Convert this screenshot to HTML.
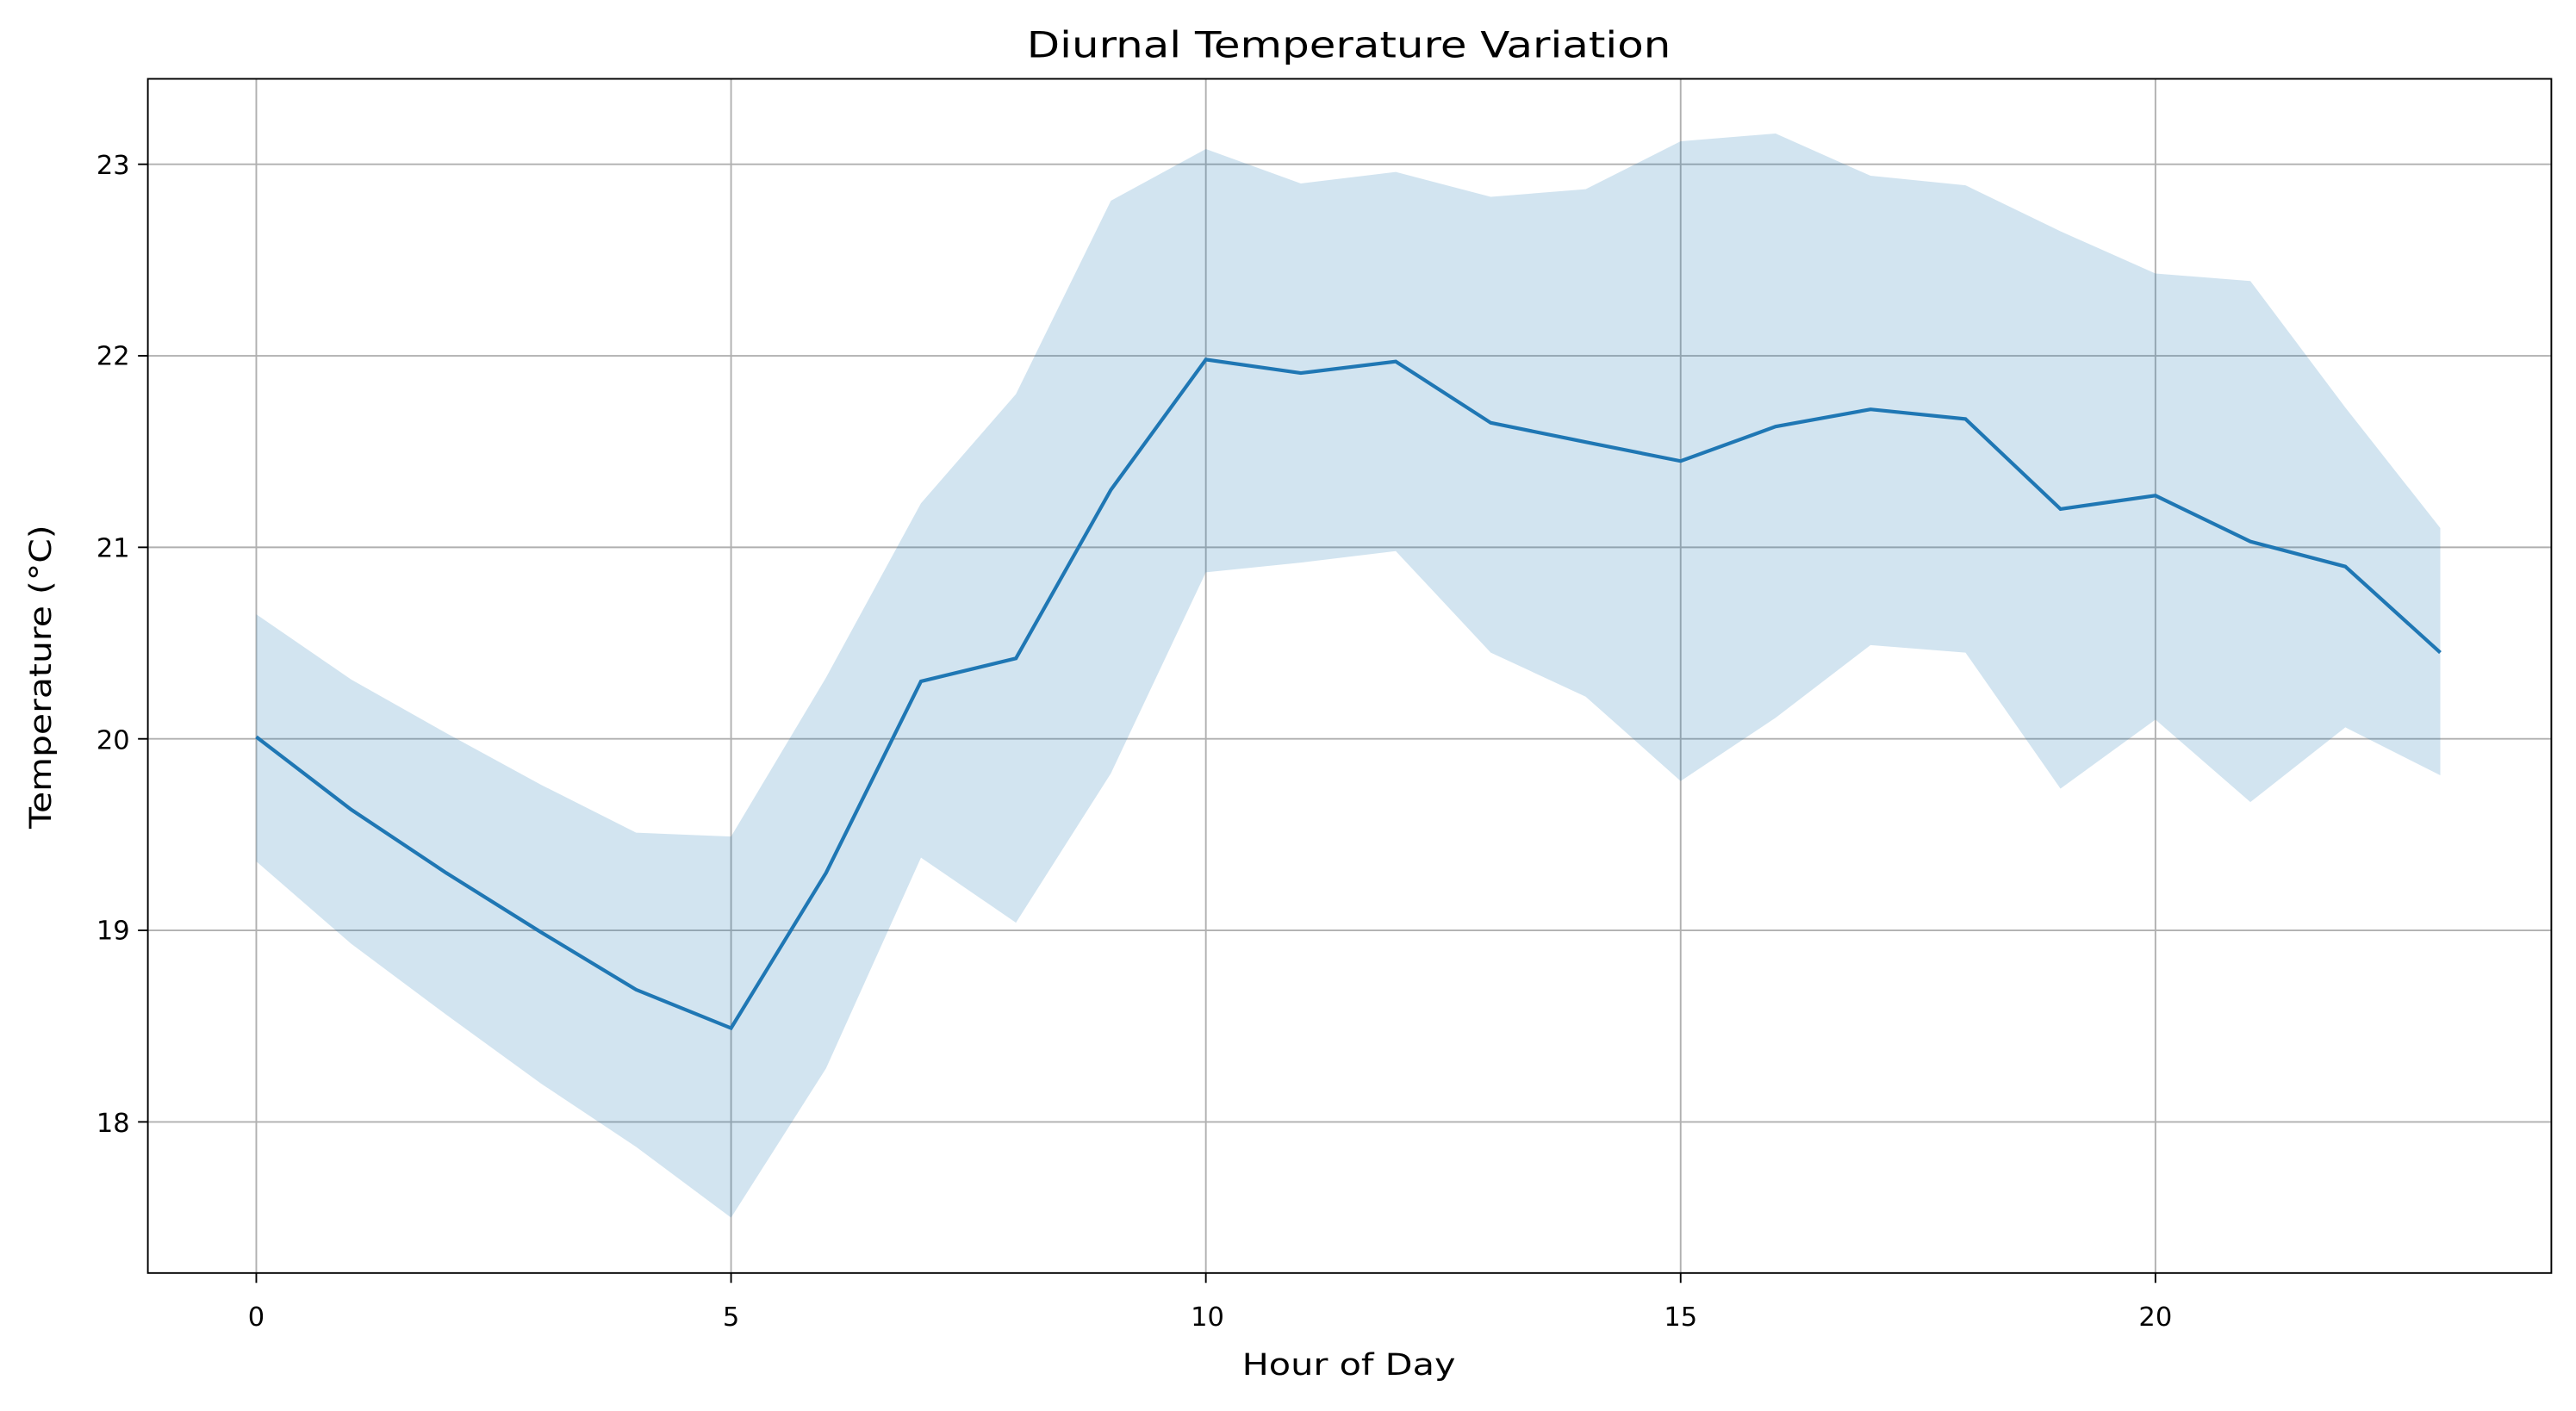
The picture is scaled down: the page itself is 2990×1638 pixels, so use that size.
<!DOCTYPE html>
<html><head><meta charset="utf-8"><style>
html,body{margin:0;padding:0;background:#fff;}
svg{display:block;}
text{font-family:"DejaVu Sans","Liberation Sans",sans-serif;fill:#000;}
</style></head><body>
<svg id="s" width="2990" height="1638" viewBox="0 0 1568 859" preserveAspectRatio="none" xmlns="http://www.w3.org/2000/svg">
<rect width="1568" height="859" fill="#fff"/>
<g id="grid" stroke="#b0b0b0" stroke-width="1"></g>
<path id="band" fill="#1f77b4" fill-opacity="0.2" stroke="none"/>
<path id="line" fill="none" stroke="#1f77b4" stroke-width="2.2"/>
<rect x="90" y="48" width="1463" height="727" fill="none" stroke="#000" stroke-width="1"/>
<g id="ticks" stroke="#000" stroke-width="1"></g>
<g font-size="16" text-anchor="middle">
<text x="156" y="807">0</text><text x="445" y="807">5</text><text x="735" y="807">10</text><text x="1023" y="807">15</text><text x="1312" y="807">20</text>
</g>
<g font-size="16" text-anchor="end">
<text x="79" y="106">23</text><text x="79" y="222">22</text><text x="79" y="339">21</text><text x="79" y="456">20</text><text x="79" y="572">19</text><text x="79" y="689">18</text>
</g>
<text x="821" y="837" font-size="18" text-anchor="middle" textLength="130" lengthAdjust="spacingAndGlyphs">Hour of Day</text>
<text x="0" y="0" font-size="18" text-anchor="middle" textLength="185" lengthAdjust="spacingAndGlyphs" transform="translate(31,412) rotate(-90)">Temperature (°C)</text>
<text x="821" y="35" font-size="22" text-anchor="middle" textLength="392" lengthAdjust="spacingAndGlyphs">Diurnal Temperature Variation</text>
</svg>
<script>
var m=[20.01,19.63,19.3,18.99,18.69,18.49,19.3,20.3,20.42,21.3,21.98,21.91,21.97,21.65,21.55,21.45,21.63,21.72,21.67,21.2,21.27,21.03,20.9,20.45];
var u=[20.65,20.31,20.03,19.76,19.51,19.49,20.32,21.23,21.8,22.81,23.08,22.9,22.96,22.83,22.87,23.12,23.16,22.94,22.89,22.65,22.43,22.39,21.73,21.1];
var l=[19.36,18.93,18.56,18.2,17.87,17.5,18.28,19.38,19.04,19.82,20.87,20.92,20.98,20.45,20.22,19.78,20.11,20.49,20.45,19.74,20.1,19.67,20.06,19.81];
function X(h){return 156+h*57.8;}function Y(v){return 683-(v-18)*116.6;}
var d="",b="";
m.forEach(function(v,i){d+=(i?"L":"M")+X(i).toFixed(1)+","+Y(v).toFixed(1);});
u.forEach(function(v,i){b+=(i?"L":"M")+X(i).toFixed(1)+","+Y(v).toFixed(1);});
for(var i=23;i>=0;i--)b+="L"+X(i).toFixed(1)+","+Y(l[i]).toFixed(1);
b+="Z";
document.getElementById("line").setAttribute("d",d);
document.getElementById("band").setAttribute("d",b);
var g="",t="";
[0,5,10,15,20].forEach(function(h){var x=X(h);g+='<line x1="'+x+'" y1="48" x2="'+x+'" y2="775"/>';t+='<line x1="'+x+'" y1="775" x2="'+x+'" y2="781"/>';});
[18,19,20,21,22,23].forEach(function(v){var y=Y(v);g+='<line x1="90" y1="'+y+'" x2="1553" y2="'+y+'"/>';t+='<line x1="84" y1="'+y+'" x2="90" y2="'+y+'"/>';});
document.getElementById("grid").innerHTML=g;
document.getElementById("ticks").innerHTML=t;
</script>
</body></html>
